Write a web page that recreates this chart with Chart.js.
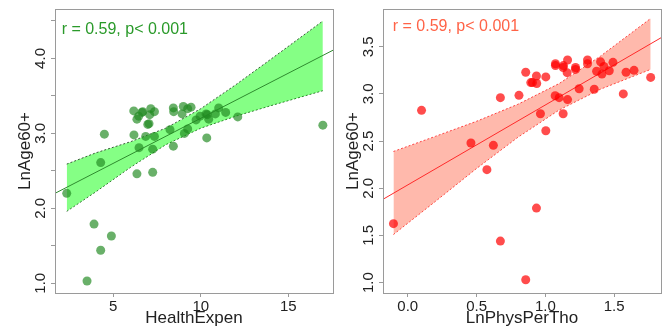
<!DOCTYPE html>
<html>
<head>
<meta charset="utf-8">
<script src="https://cdn.jsdelivr.net/npm/chart.js@4/dist/chart.umd.min.js"></script>
<style>
  html, body { margin: 0; padding: 0; background: #fff; }
  #wrap { position: relative; width: 667px; height: 331px; overflow: hidden; }
  .panel { position: absolute; top: 0; height: 331px; }
</style>
</head>
<body>
<div id="wrap">
  <div class="panel" style="left:0;width:338px"><canvas id="leftChart" width="338" height="331"></canvas></div>
  <div class="panel" style="left:328px;width:339px"><canvas id="rightChart" width="339" height="331"></canvas></div>
</div>
<script>
// left panel: HealthExpen vs LnAge60+
const healthExpen = [2.34,4.28,4.49,3.90,4.28,4.89,3.50,6.17,6.35,6.45,6.64,6.68,7.08,7.14,7.35,
  6.97,7.04,6.18,6.85,7.35,6.47,7.25,6.35,7.25,8.24,8.43,8.45,8.43,8.93,9.00,9.25,9.44,9.06,9.25,
  9.73,9.96,10.30,10.37,10.45,10.34,10.83,11.02,11.42,12.11,16.97];
const lnAgeLeft = [2.20,2.61,2.99,1.79,1.44,1.63,1.03,3.30,3.19,3.23,3.28,3.29,3.25,3.33,3.29,
  3.12,3.13,2.98,2.96,2.96,2.81,2.79,2.46,2.48,3.05,3.34,3.29,2.83,3.26,3.36,3.33,3.35,3.00,3.06,
  3.18,3.23,3.26,3.25,3.19,2.94,3.26,3.34,3.28,3.22,3.11];
const fitXLeft = [1.67, 17.55];
const fitYLeft = [2.20, 4.11];
const bandXLeft = [2.34, 4, 6, 8, 10, 12, 14, 16.97];
const bandLoLeft = [1.96, 2.22, 2.55, 2.85, 3.07, 3.23, 3.37, 3.57];
const bandHiLeft = [2.59, 2.74, 2.89, 3.07, 3.33, 3.65, 3.99, 4.50];
const xTicksLeft = [5, 10, 15];
const xLabelsLeft = ['5', '10', '15'];
const yTicksLeft = [1, 1.5, 2, 2.5, 3, 3.5, 4, 4.5];
const yLabelsLeft = ['1.0', '', '2.0', '', '3.0', '', '4.0', ''];

// right panel: LnPhysPerTho vs LnAge60+
const lnPhys = [-0.104,0.100,0.459,0.622,0.575,0.673,0.673,0.808,0.857,0.935,0.894,0.906,0.937,0.935,
  0.857,0.964,1.003,1.003,1.073,1.073,1.071,1.100,1.129,1.131,1.161,1.158,1.129,1.161,1.219,1.219,
  1.245,1.306,1.306,1.355,1.372,1.401,1.411,1.425,1.464,1.491,1.566,1.586,1.644,1.765];
const lnAgeRight = [1.625,2.826,2.48,2.455,2.197,2.96,1.44,2.985,3.23,3.19,3.12,3.12,3.11,1.79,
  1.03,2.79,3.18,2.61,3.32,3.30,2.98,2.96,3.28,3.30,3.36,3.225,2.79,2.94,3.28,3.26,
  3.055,3.36,3.32,3.05,3.24,3.34,3.21,3.29,3.245,3.335,3.0,3.23,3.25,3.175];
const fitXRight = [-0.18, 1.84];
const fitYRight = [1.883, 3.595];
const bandXRight = [-0.104, 0.2, 0.5, 0.8, 1.1, 1.4, 1.765];
const bandLoRight = [1.51, 1.86, 2.21, 2.54, 2.83, 3.05, 3.26];
const bandHiRight = [2.39, 2.55, 2.71, 2.89, 3.11, 3.40, 3.80];
const xTicksRight = [0, 0.5, 1, 1.5];
const xLabelsRight = ['0.0', '0.5', '1.0', '1.5'];
const yTicksRight = [1, 1.5, 2, 2.5, 3, 3.5];
const yLabelsRight = ['1.0', '1.5', '2.0', '2.5', '3.0', '3.5'];

const statText = 'r = 0.59, p< 0.001';
const FONT = '"Liberation Sans", Arial, sans-serif';
const AXIS = '#9a9a9a';

function pts(xs, ys) { return xs.map((x, i) => ({x: x, y: ys[i]})); }

// R-style box round the plot plus the r/p note
const boxNote = {
	id: 'boxNote',
	afterDraw(chart, args, opts) {
		const ctx = chart.ctx, a = chart.chartArea;
		ctx.save();
		ctx.strokeStyle = AXIS;
		ctx.lineWidth = 1;
		ctx.strokeRect(Math.round(a.left) + 0.5, Math.round(a.top) + 0.5,
			Math.round(a.right - a.left), Math.round(a.bottom - a.top));
		ctx.font = '16px ' + FONT;
		ctx.fillStyle = opts.color;
		ctx.textBaseline = 'middle';
		ctx.textAlign = 'left';
		ctx.fillText(opts.text, chart.scales.x.getPixelForValue(opts.x), chart.scales.y.getPixelForValue(opts.y));
		ctx.restore();
	}
};

function panel(id, p) {
	return new Chart(document.getElementById(id), {
		type: 'scatter',
		data: {
			datasets: [{
				data: pts(p.x, p.y),
				backgroundColor: p.pointColor,
				borderWidth: 0,
				pointRadius: 4.5,
				pointHoverRadius: 4.5
			}, {
				type: 'line',
				data: pts(p.fitX, p.fitY),
				borderColor: p.lineColor,
				borderWidth: 1,
				pointRadius: 0,
				fill: false
			}, {
				type: 'line',
				data: pts(p.bandX, p.bandHi),
				borderColor: p.edgeColor,
				borderWidth: 1,
				borderDash: [2, 2],
				pointRadius: 0,
				backgroundColor: p.bandColor,
				fill: '+1'
			}, {
				type: 'line',
				data: pts(p.bandX, p.bandLo),
				borderColor: p.edgeColor,
				borderWidth: 1,
				borderDash: [2, 2],
				pointRadius: 0,
				fill: false
			}]
		},
		options: {
			responsive: false,
			animation: false,
			layout: { padding: p.padding },
			plugins: {
				legend: { display: false },
				tooltip: { enabled: false },
				boxNote: { text: statText, color: p.textColor, x: p.noteX, y: p.noteY }
			},
			scales: {
				x: {
					type: 'linear',
					min: p.xMin, max: p.xMax,
					afterBuildTicks: s => { s.ticks = p.xTicks.map(v => ({value: v})); },
					afterFit: s => { s.height = 38; },
					grid: { drawOnChartArea: false, drawTicks: true, tickLength: 4, color: AXIS },
					border: { display: true, color: AXIS },
					ticks: {
						autoSkip: false, maxRotation: 0, padding: 1,
						color: '#222', font: { family: FONT, size: 15 },
						callback: (v, i) => p.xLabels[i]
					},
					title: {
						display: true, text: p.xTitle, color: '#222',
						font: { family: FONT, size: 17 }, padding: { top: 0, bottom: 2 }
					}
				},
				y: {
					type: 'linear',
					min: p.yMin, max: p.yMax,
					afterBuildTicks: s => { s.ticks = p.yTicks.map(v => ({value: v})); },
					afterFit: s => { s.width = 55; },
					grid: { drawOnChartArea: false, drawTicks: true, tickLength: 4, color: AXIS },
					border: { display: true, color: AXIS },
					ticks: {
						autoSkip: false, minRotation: 90, maxRotation: 90,
						crossAlign: 'center', padding: 0,
						color: '#222', font: { family: FONT, size: 15 },
						callback: (v, i) => p.yLabels[i]
					},
					title: {
						display: true, text: 'LnAge60+', color: '#222',
						font: { family: FONT, size: 17 }, padding: { top: 15, bottom: 0 }
					}
				}
			}
		},
		plugins: [boxNote]
	});
}

panel('leftChart', {
	x: healthExpen, y: lnAgeLeft,
	fitX: fitXLeft, fitY: fitYLeft,
	bandX: bandXLeft, bandLo: bandLoLeft, bandHi: bandHiLeft,
	xTicks: xTicksLeft, xLabels: xLabelsLeft, yTicks: yTicksLeft, yLabels: yLabelsLeft,
	xMin: 1.67, xMax: 17.55, yMin: 0.87, yMax: 4.66,
	xTitle: 'HealthExpen',
	padding: { top: 7, right: 5, left: 0, bottom: 0 },
	pointColor: 'rgba(34,139,34,0.68)', lineColor: '#2e8b2e',
	bandColor: 'rgba(0,255,0,0.48)', edgeColor: '#3c5a3c',
	textColor: '#2a9a2a', noteX: 2.05, noteY: 4.39
});

panel('rightChart', {
	x: lnPhys, y: lnAgeRight,
	fitX: fitXRight, fitY: fitYRight,
	bandX: bandXRight, bandLo: bandLoRight, bandHi: bandHiRight,
	xTicks: xTicksRight, xLabels: xLabelsRight, yTicks: yTicksRight, yLabels: yLabelsRight,
	xMin: -0.18, xMax: 1.84, yMin: 0.89, yMax: 3.90,
	xTitle: 'LnPhysPerTho',
	padding: { top: 9, right: 6, left: 0, bottom: 0 },
	pointColor: 'rgba(255,0,0,0.7)', lineColor: '#ff2a2a',
	bandColor: 'rgba(255,99,71,0.45)', edgeColor: '#ff4040',
	textColor: '#ff6347', noteX: -0.109, noteY: 3.71
});
</script>
</body>
</html>
